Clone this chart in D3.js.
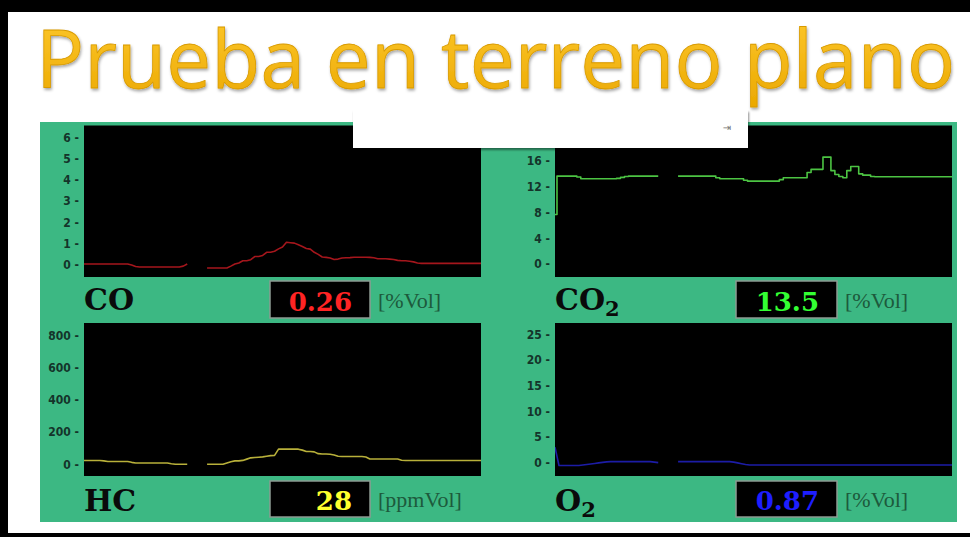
<!DOCTYPE html>
<html>
<head>
<meta charset="utf-8">
<script src="https://cdn.jsdelivr.net/npm/d3@7"></script>
<style>
  html, body { margin: 0; padding: 0; background: #ffffff; }
  svg { display: block; }
</style>
</head>
<body>
<svg id="chart" width="970" height="537"></svg>
<script>
// ---------------- data ----------------
const chartTitle = "Prueba en terreno plano";

// gas names (base + subscript), current readings and units
const gasNames = ["CO", "CO", "HC", "O"];
const gasSubscripts = ["", "2", "", "2"];
const readings = ["0.26", "13.5", "28", "0.87"];
const units = ["[%Vol]", "[%Vol]", "[ppmVol]", "[%Vol]"];

// y-axis tick values of each trend
const coTicks = [0, 1, 2, 3, 4, 5, 6];
const co2Ticks = [0, 4, 8, 12, 16];
const hcTicks = [0, 200, 400, 600, 800];
const o2Ticks = [0, 5, 10, 15, 20, 25];

// logged samples (101 per gas, null = sensor dropout)
const coSeries = [
  0.05, 0.05, 0.05, 0.05, 0.05, 0.05, 0.05, 0.05, 0.05, 0.05, 0.05, 0.05,
  0.0, -0.07,
  -0.09, -0.09, -0.09, -0.09, -0.09, -0.09, -0.09, -0.09, -0.09, -0.09, -0.09,
  -0.05, 0.05,
  null, null, null, null,
  -0.14, -0.14, -0.14, -0.14, -0.14, -0.14,
  -0.05, 0.05, 0.1, 0.2, 0.2, 0.25, 0.4, 0.4, 0.45, 0.6,
  0.6, 0.65, 0.76, 0.85, 1.07, 1.05, 1.03, 0.95, 0.87, 0.78,
  0.75, 0.6, 0.5, 0.38, 0.36, 0.33, 0.26, 0.28, 0.33, 0.34,
  0.35, 0.37, 0.37, 0.37, 0.37, 0.36, 0.34, 0.3, 0.3, 0.3,
  0.28, 0.26, 0.22, 0.2, 0.2, 0.18, 0.15, 0.1,
  0.08, 0.08, 0.08, 0.08, 0.08, 0.08, 0.08, 0.08, 0.08, 0.08, 0.08, 0.08, 0.08, 0.08, 0.08, 0.08
];

const co2Series = [
  7.7,
  13.65, 13.65, 13.65, 13.65, 13.65,
  13.5,
  13.23, 13.23, 13.23, 13.23, 13.23, 13.23, 13.23, 13.23, 13.23,
  13.3, 13.45, 13.6,
  13.65, 13.65, 13.65, 13.65, 13.65, 13.65, 13.65, 13.65,
  null, null, null, null,
  13.65, 13.65, 13.65, 13.65, 13.65, 13.65, 13.65, 13.65, 13.65, 13.65,
  13.4,
  13.23, 13.23, 13.23, 13.23, 13.23, 13.23,
  13.0,
  12.87, 12.87, 12.87, 12.87, 12.87, 12.87, 12.87, 12.87,
  13.1,
  13.4, 13.4, 13.4, 13.4, 13.4, 13.4,
  14.2, 14.7, 14.7, 14.7, 16.6, 16.6, 14.5, 13.9, 13.6, 13.4,
  14.5, 15.15, 15.15, 14.0, 13.8, 13.8, 13.6,
  13.55, 13.55, 13.55, 13.55, 13.55, 13.55, 13.55, 13.55, 13.55, 13.55,
  13.55, 13.55, 13.55, 13.55, 13.55, 13.55, 13.55, 13.55, 13.55, 13.55
];

const hcSeries = [
  23, 23, 23, 23, 23,
  21,
  17, 17, 17, 17, 17, 17,
  12,
  8, 8, 8, 8, 8, 8, 8, 8, 8,
  3,
  0, 0, 0, 0,
  null, null, null, null,
  0, 0, 0, 0, 0,
  8, 16, 21, 21, 24, 32, 40, 42, 44, 46,
  50, 54, 55, 94, 94, 94, 94, 94, 94, 88,
  79, 79, 77, 66, 64, 64, 62, 58, 50, 48,
  48, 48, 48, 48, 48, 45,
  33, 33, 33, 33, 33, 33, 33, 33,
  25,
  23, 23, 23, 23, 23, 23, 23, 23, 23, 23,
  23, 23, 23, 23, 23, 23, 23, 23, 23, 23
];

const o2Series = [
  3.0,
  -0.55, -0.55, -0.55, -0.55, -0.55, -0.55,
  -0.45, -0.35, -0.25, -0.15, -0.05, 0.05, 0.15,
  0.2, 0.2, 0.2, 0.2, 0.2, 0.2, 0.2, 0.2, 0.2, 0.2, 0.2,
  0.1, 0.0,
  null, null, null, null,
  0.2, 0.2, 0.2, 0.2, 0.2, 0.2, 0.2, 0.2, 0.2, 0.2, 0.2, 0.2, 0.2, 0.2,
  0.1, -0.05, -0.2, -0.35,
  -0.45, -0.45, -0.45, -0.45, -0.45, -0.45, -0.45, -0.45, -0.45, -0.45,
  -0.45, -0.45, -0.45, -0.45, -0.45, -0.45, -0.45, -0.45, -0.45, -0.45,
  -0.45, -0.45, -0.45, -0.45, -0.45, -0.45, -0.45, -0.45, -0.45, -0.45,
  -0.45, -0.45, -0.45, -0.45, -0.45, -0.45, -0.45, -0.45, -0.45, -0.45,
  -0.45, -0.45, -0.45, -0.45, -0.45, -0.45, -0.45, -0.45, -0.45, -0.45,
  -0.45, -0.45
];

// ---------------- layout ----------------
const W = 970, H = 537;
const svg = d3.select("#chart");

const columns = [
  { plotX: [84, 481], boxX: [270, 370] },
  { plotX: [555, 952], boxX: [736, 837] }
];
const rows = [
  { plotY: [125.5, 277], labelY: 310, boxY: [281, 318] },
  { plotY: [323, 476], labelY: 511, boxY: [481, 517] }
];

const panels = [
  { i: 0, series: coSeries,  ticks: coTicks,  domain: [-0.56, 6.55], col: 0, row: 0, line: "#a5161c", value: "#ff2424", curve: d3.curveLinear },
  { i: 1, series: co2Series, ticks: co2Ticks, domain: [-2.0, 21.5],  col: 1, row: 0, line: "#4cc443", value: "#33ff33", curve: d3.curveStep },
  { i: 2, series: hcSeries,  ticks: hcTicks,  domain: [-73, 879],    col: 0, row: 1, line: "#b8b03a", value: "#ffff2e", curve: d3.curveLinear },
  { i: 3, series: o2Series,  ticks: o2Ticks,  domain: [-2.6, 27.2],  col: 1, row: 1, line: "#1c1ca6", value: "#1e1eff", curve: d3.curveLinear }
];

// ---------------- defs ----------------
const defs = svg.append("defs");
const grad = defs.append("linearGradient")
  .attr("id", "titleFill").attr("x1", 0).attr("y1", 0).attr("x2", 0).attr("y2", 1);
grad.append("stop").attr("offset", "0%").attr("stop-color", "#ffcb30");
grad.append("stop").attr("offset", "100%").attr("stop-color", "#eaa700");

const shadow = defs.append("filter").attr("id", "titleShadow")
  .attr("x", "-5%").attr("y", "-20%").attr("width", "110%").attr("height", "140%");
shadow.append("feDropShadow").attr("dx", 1).attr("dy", 2).attr("stdDeviation", 1.4)
  .attr("flood-color", "#000").attr("flood-opacity", 0.35);

const popShadow = defs.append("filter").attr("id", "popShadow")
  .attr("x", "-5%").attr("y", "-20%").attr("width", "110%").attr("height", "160%");
popShadow.append("feDropShadow").attr("dx", 1).attr("dy", 2).attr("stdDeviation", 1)
  .attr("flood-color", "#000").attr("flood-opacity", 0.45);

// ---------------- frame + title ----------------
svg.append("rect").attr("width", W).attr("height", H).attr("fill", "#ffffff");

svg.append("text")
  .attr("x", 36).attr("y", 88)
  .attr("textLength", 919)
  .attr("font-family", "'Open Sans', Lato, sans-serif")
  .attr("font-size", 80)
  .attr("fill", "url(#titleFill)")
  .attr("stroke", "#d89a00").attr("stroke-width", 0.8)
  .attr("filter", "url(#titleShadow)")
  .text(chartTitle);

// instrument panel background
svg.append("rect")
  .attr("x", 40).attr("y", 122).attr("width", 917).attr("height", 400)
  .attr("fill", "#3cb883");

// ---------------- trends ----------------
panels.forEach(p => {
  const c = columns[p.col], r = rows[p.row];
  const g = svg.append("g");

  const x = d3.scaleLinear().domain([0, p.series.length - 1]).range(c.plotX);
  const y = d3.scaleLinear().domain(p.domain).range([r.plotY[1], r.plotY[0]]);

  g.append("rect")
    .attr("x", c.plotX[0]).attr("y", r.plotY[0])
    .attr("width", c.plotX[1] - c.plotX[0]).attr("height", r.plotY[1] - r.plotY[0])
    .attr("fill", "#000000");

  const clipId = "clip" + p.i;
  defs.append("clipPath").attr("id", clipId).append("rect")
    .attr("x", c.plotX[0]).attr("y", r.plotY[0])
    .attr("width", c.plotX[1] - c.plotX[0]).attr("height", r.plotY[1] - r.plotY[0]);

  const line = d3.line()
    .defined(d => d != null)
    .curve(p.curve)
    .x((d, k) => x(k))
    .y(d => y(d));

  g.append("path")
    .datum(p.series)
    .attr("clip-path", `url(#${clipId})`)
    .attr("fill", "none")
    .attr("stroke", p.line)
    .attr("stroke-width", 1.6)
    .attr("stroke-linejoin", "round")
    .attr("d", line);

  const axis = d3.axisLeft(y)
    .tickValues(p.ticks)
    .tickSize(0)
    .tickPadding(5)
    .tickFormat(d => d + " -");

  const ag = g.append("g")
    .attr("transform", `translate(${c.plotX[0]},0)`)
    .call(axis);
  ag.select(".domain").remove();
  ag.selectAll("text")
    .attr("font-family", "'DejaVu Sans Condensed', 'Liberation Sans Narrow', 'Arial Narrow', sans-serif")
    .attr("font-weight", "bold")
    .attr("font-size", 12)
    .attr("fill", "#14342a");

  // gas name
  const name = g.append("text")
    .attr("x", c.plotX[0]).attr("y", r.labelY)
    .attr("font-family", "'DejaVu Serif', 'Liberation Serif', serif")
    .attr("font-weight", "bold")
    .attr("font-size", 30)
    .attr("fill", "#0a0a0a")
    .text(gasNames[p.i]);
  if (gasSubscripts[p.i]) {
    name.append("tspan")
      .attr("font-size", 21).attr("dy", 6)
      .text(gasSubscripts[p.i]);
  }

  // reading display
  g.append("rect")
    .attr("x", c.boxX[0]).attr("y", r.boxY[0])
    .attr("width", c.boxX[1] - c.boxX[0]).attr("height", r.boxY[1] - r.boxY[0])
    .attr("fill", "#000000")
    .attr("stroke", "#8c9a92").attr("stroke-width", 1.5);

  g.append("text")
    .attr("x", c.boxX[1] - 18).attr("y", r.boxY[1] - 7)
    .attr("text-anchor", "end")
    .attr("font-family", "'DejaVu Serif', 'Liberation Serif', serif")
    .attr("font-weight", "bold")
    .attr("font-size", 26)
    .attr("fill", p.value)
    .text(readings[p.i]);

  g.append("text")
    .attr("x", c.boxX[1] + 8).attr("y", r.boxY[1] - 10)
    .attr("font-family", "'Liberation Serif', 'Times New Roman', serif")
    .attr("font-size", 22)
    .attr("fill", "#1d5a3c")
    .text(units[p.i]);
});

// floating window strip over the panel top
svg.append("rect")
  .attr("x", 353).attr("y", 110).attr("width", 395).attr("height", 38)
  .attr("fill", "#ffffff")
  .attr("filter", "url(#popShadow)");
svg.append("text")
  .attr("x", 727).attr("y", 131)
  .attr("text-anchor", "middle")
  .attr("font-family", "'DejaVu Sans', sans-serif")
  .attr("font-size", 10)
  .attr("fill", "#777777")
  .text("⇥");

// slide border
svg.append("rect").attr("x", 0).attr("y", 0).attr("width", W).attr("height", 12).attr("fill", "#000");
svg.append("rect").attr("x", 0).attr("y", 0).attr("width", 8).attr("height", H).attr("fill", "#000");
svg.append("rect").attr("x", 0).attr("y", 533).attr("width", W).attr("height", 4).attr("fill", "#000");
</script>
</body>
</html>
